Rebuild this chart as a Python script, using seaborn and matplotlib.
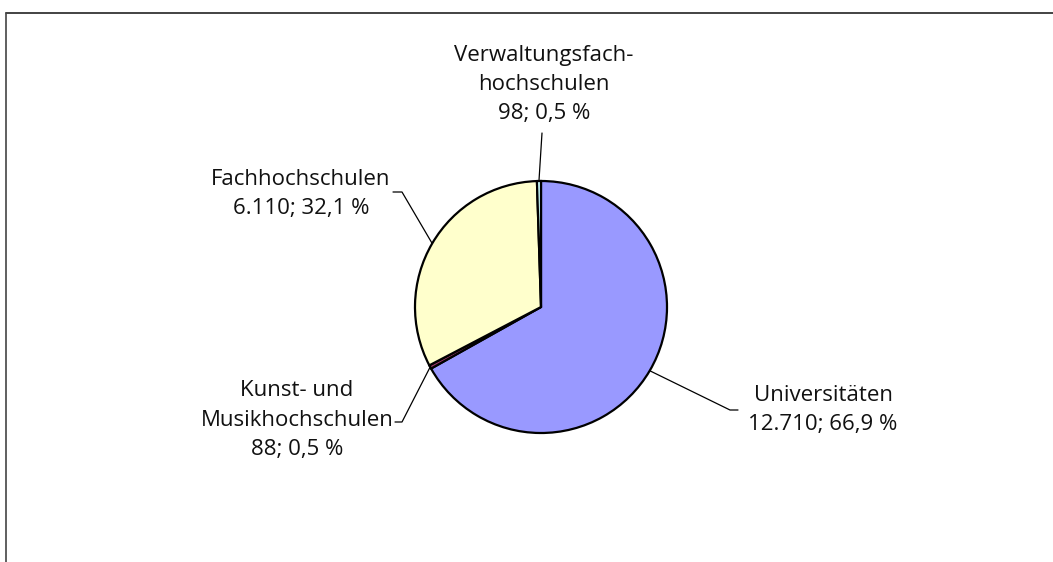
import seaborn as sns
import matplotlib.pyplot as plt
import numpy as np
from matplotlib.lines import Line2D

# data
labels = ["Universitäten", "Kunst- und\nMusikhochschulen", "Fachhochschulen", "Verwaltungsfach-\nhochschulen"]
counts = [12710, 88, 6110, 98]
colors = ["#9999FF", "#993366", "#FFFFCC", "#CCFFFF"]

W, H = 1053, 562


def de_num(v):
    return f"{v:,}".replace(",", ".")


def de_pct(p):
    return f"{p:.1f}".replace(".", ",") + " %"


sns.set_style("white")
plt.rcParams["font.family"] = ["Open Sans", "DejaVu Sans"]

fig = plt.figure(figsize=(W / 100, H / 100), dpi=100)
ax = fig.add_axes([0, 0, 1, 1])

cx, cy, r = 541, H - 307, 126
wedges, _ = ax.pie(counts, colors=colors, startangle=90, counterclock=False,
                   center=(cx, cy), radius=r,
                   wedgeprops=dict(edgecolor="black", linewidth=1.6))
ax.set_xlim(0, W)
ax.set_ylim(0, H)
ax.set_aspect("equal")
ax.axis("off")

total = sum(counts)
# label centre (image coords) and leader elbow points
label_pos = [(823, 410), (297, 420), (301, 194), (544, 84)]
elbows = [[(730, 410), (738, 410)],
          [(402, 422), (395, 422)],
          [(402, 192), (393, 192)],
          [(542, 133)]]

for w, lab, n, (lx, ly), elb in zip(wedges, labels, counts, label_pos, elbows):
    mid = np.deg2rad((w.theta1 + w.theta2) / 2)
    px, py = cx + r * np.cos(mid), cy + r * np.sin(mid)
    xs = [px] + [e[0] for e in elb]
    ys = [py] + [H - e[1] for e in elb]
    ax.plot(xs, ys, color="black", lw=0.9, zorder=0)
    txt = f"{lab}\n{de_num(n)}; {de_pct(n / total * 100)}"
    ax.text(lx, H - ly, txt, ha="center", va="center", fontsize=16,
            linespacing=1.5, color="#111111")

# outer frame (cut off at right and bottom)
fig.add_artist(Line2D([6 / W, 1.0], [1 - 12.5 / H, 1 - 12.5 / H], color="#222222", lw=1.2))
fig.add_artist(Line2D([6 / W, 6 / W], [0, 1 - 12.5 / H], color="#444444", lw=1.2))

fig.savefig("out.png", dpi=100)
